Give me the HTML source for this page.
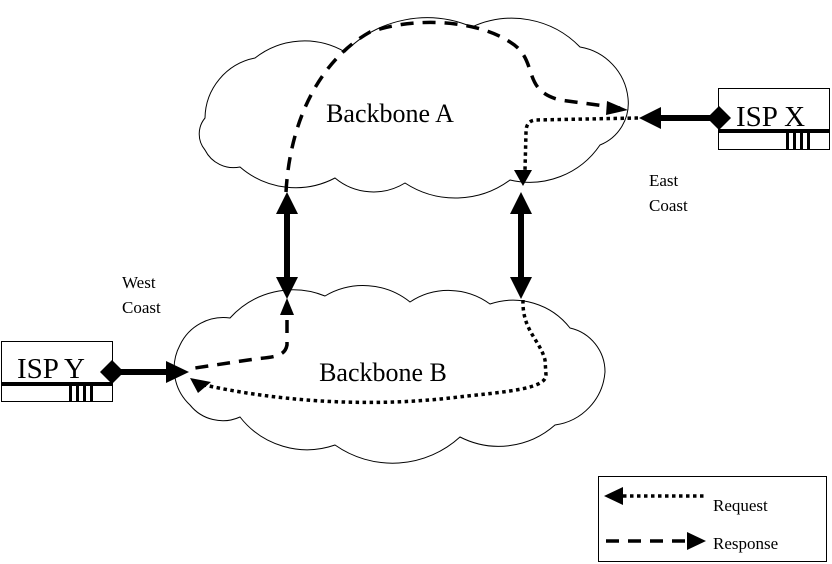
<!DOCTYPE html>
<html><head><meta charset="utf-8"><style>
html,body{margin:0;padding:0;background:#fff;}
svg{display:block;font-family:"Liberation Serif",serif;}
</style></head><body>
<svg width="832" height="564" viewBox="0 0 832 564" xmlns="http://www.w3.org/2000/svg">
<!-- Cloud A -->
<path fill="none" stroke="#000" stroke-width="1" d="M205,118 A62,62 0 0 1 255,58 A80,80 0 0 1 345,52 A115,115 0 0 1 472,27 A95,95 0 0 1 580,47 A58,58 0 0 1 628,98 A45,45 0 0 1 600,145 A85,85 0 0 1 510,180 A92,92 0 0 1 405,183 A60,60 0 0 1 335,178 A85,85 0 0 1 240,167 A32,32 0 0 1 205,150 A25,25 0 0 1 205,118 Z"/>
<!-- Cloud B -->
<path fill="none" stroke="#000" stroke-width="1" d="M180,345 A48,48 0 0 1 230,318 A85,85 0 0 1 325,296 A75,75 0 0 1 410,302 A70,70 0 0 1 490,304 A72,72 0 0 1 570,328 A45,45 0 0 1 605,372 A58,58 0 0 1 555,425 A85,85 0 0 1 460,437 A100,100 0 0 1 335,445 A85,85 0 0 1 240,417 A42,42 0 0 1 190,405 A50,50 0 0 1 180,345 Z"/>
<text x="390" y="122" font-size="26" text-anchor="middle">Backbone A</text>
<text x="383" y="381" font-size="26" text-anchor="middle">Backbone B</text>
<text x="122" y="288" font-size="17">West</text>
<text x="122" y="313" font-size="17">Coast</text>
<text x="649" y="186" font-size="17">East</text>
<text x="649" y="211" font-size="17">Coast</text>
<g fill="#000">
<rect x="284" y="212" width="6" height="68"/>
<polygon points="287,192 276,214 298,214"/><polygon points="287,299 276,277 298,277"/>
<rect x="518" y="212" width="6" height="68"/>
<polygon points="521,192 510,214 532,214"/><polygon points="521,299 510,277 532,277"/>
</g>
<!-- ISP X -->
<rect x="718.5" y="88.5" width="111" height="61" fill="#fff" stroke="#000"/>
<rect x="718" y="129" width="112" height="4" fill="#000"/>
<g fill="#000"><rect x="786" y="131" width="3" height="18"/><rect x="793" y="131" width="3" height="18"/><rect x="800" y="131" width="3" height="18"/><rect x="807" y="131" width="3" height="18"/></g>
<text x="736" y="126" font-size="29">ISP X</text>
<rect x="655" y="115" width="60" height="6" fill="#000"/>
<polygon points="639,118 661,107 661,129" fill="#000"/>
<polygon points="719,106 731,118 719,130 707,118" fill="#000"/>
<!-- ISP Y -->
<rect x="1.5" y="341.5" width="111" height="60" fill="#fff" stroke="#000"/>
<rect x="1" y="382" width="112" height="4" fill="#000"/>
<g fill="#000"><rect x="69" y="384" width="3" height="17"/><rect x="76" y="384" width="3" height="17"/><rect x="83" y="384" width="3" height="17"/><rect x="90" y="384" width="3" height="17"/></g>
<text x="17" y="378" font-size="29">ISP Y</text>
<rect x="118" y="369" width="54" height="6" fill="#000"/>
<polygon points="189,372 166,361 166,383" fill="#000"/>
<polygon points="112,360 124,372 112,384 100,372" fill="#000"/>
<!-- Response (dashed) -->
<path d="M286,192 C290,120 320,60 370,32 C420,15 480,22 510,42 C540,60 520,90 560,100 L620,108" fill="none" stroke="#000" stroke-width="3.5" stroke-dasharray="13,9"/>
<polygon points="628,110 607,101 606,115" fill="#000"/>
<path d="M287,320 L287,345 C285,356 275,357 255,359 L195,368" fill="none" stroke="#000" stroke-width="3.5" stroke-dasharray="13,9"/>
<polygon points="287,298 280,315 294,315" fill="#000"/>
<!-- Request (dotted) -->
<path d="M638,118 L535,120 C528,121 526,126 526,132 L525,170" fill="none" stroke="#000" stroke-width="3.5" stroke-dasharray="3.5,3.5"/>
<polygon points="523,186 514,170 532,170" fill="#000"/>
<path d="M523,300 C522,330 540,340 545,360 L546,375 C546,390 500,392 450,398 C360,408 270,400 200,384" fill="none" stroke="#000" stroke-width="3.5" stroke-dasharray="3.5,3.5"/>
<polygon points="190,378 211,382 198,393" fill="#000"/>
<!-- Legend -->
<rect x="598.5" y="476.5" width="228" height="85" fill="none" stroke="#000"/>
<polygon points="604,496 623,487 623,505" fill="#000"/>
<path d="M623,496 L705,496" stroke="#000" stroke-width="3.5" stroke-dasharray="3.5,3.5"/>
<text x="713" y="511" font-size="17">Request</text>
<path d="M606,541 L688,541" stroke="#000" stroke-width="3.5" stroke-dasharray="13,9"/>
<polygon points="706,541 687,532 687,550" fill="#000"/>
<text x="713" y="549" font-size="17">Response</text>
</svg>
</body></html>
